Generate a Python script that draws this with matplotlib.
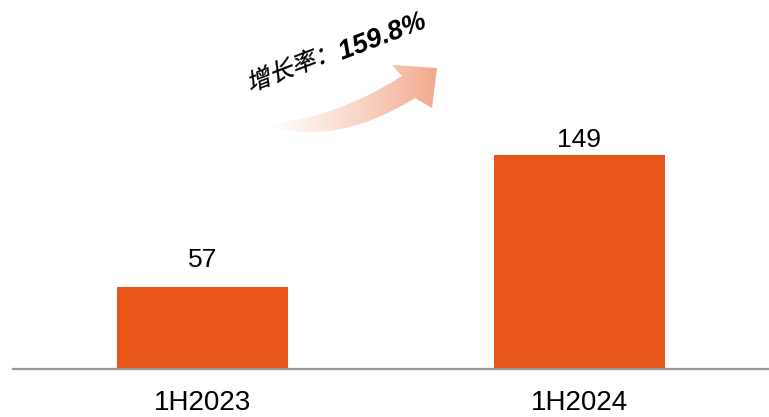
import matplotlib.pyplot as plt
import numpy as np
from matplotlib.patches import PathPatch
from matplotlib.path import Path
from matplotlib.textpath import TextPath
from matplotlib.font_manager import FontProperties
from matplotlib.transforms import Affine2D

periods = ['1H2023', '1H2024']
revenue = [57, 149]
growth_label = '159.8%'

bar_color = '#E85719'
label_pad = [14.5, 6]  # points between bar top and value text

W, H = 769, 417
fig = plt.figure(figsize=(W / 100, H / 100), dpi=100)

# main bar axes, baseline sits ~48 px above the bottom edge
ax = fig.add_axes([13 / W, 48 / H, 1 - 13 / W, 1 - 48 / H])
x = np.arange(len(periods))
ax.bar(x, revenue, width=0.453, color=bar_color, zorder=2)
for xi, v, pad in zip(x, revenue, label_pad):
    ax.annotate(str(v), (xi, v), xytext=(0, pad), textcoords='offset points',
                ha='center', va='baseline', fontsize=19, family='Liberation Sans')
ax.set_xlim(-0.503, 1.503)
ax.set_ylim(0, 256.8)
ax.set_xticks(x, periods, fontsize=20, family='Liberation Sans')
ax.tick_params(axis='x', length=0, pad=15)
ax.set_yticks([])
for side in ['top', 'right', 'left']:
    ax.spines[side].set_visible(False)
ax.spines['bottom'].set_color('#999999')
ax.spines['bottom'].set_linewidth(1.6)
ax.spines['bottom'].set_zorder(3)

# overlay in pixel coordinates (y down) for the growth arrow and caption
ov = fig.add_axes([0, 0, 1, 1])
ov.set_xlim(0, W)
ov.set_ylim(H, 0)
ov.axis('off')

# curved arrow: smooth lower/upper edges, straight head
verts = [(262, 123), (331, 150), (415, 98),
         (432, 108), (437, 68), (392, 65), (402, 76),
         (337, 117), (275, 123), (262, 123)]
codes = [Path.MOVETO, Path.CURVE3, Path.CURVE3,
         Path.LINETO, Path.LINETO, Path.LINETO, Path.LINETO,
         Path.CURVE3, Path.CURVE3, Path.LINETO]
arrow = PathPatch(Path(verts, codes), facecolor='none', edgecolor='none')
ov.add_patch(arrow)

# horizontal fade: transparent at the tail, salmon at the head
n = 256
t = np.linspace(0, 1, n)
grad = np.zeros((1, n, 4))
grad[..., 0] = 238 / 255
grad[..., 1] = 150 / 255
grad[..., 2] = 115 / 255
grad[..., 3] = 0.82 * t ** 1.2
img = ov.imshow(grad, extent=(262, 438, 140, 62), aspect='auto', interpolation='bilinear')
img.set_clip_path(arrow)

angle = 21
cjk = FontProperties(family='Noto Sans CJK SC', weight='normal')
num = FontProperties(family='Liberation Sans', weight='bold', style='italic')

tp = TextPath((0, 0), '增长率：', size=24, prop=cjk)
tr = Affine2D().skew_deg(14, 0).rotate_deg(angle).scale(1, -1).translate(250, 92)
ov.add_patch(PathPatch(tr.transform_path(tp), facecolor='black', edgecolor='black', lw=0.2))

tp2 = TextPath((0, 0), growth_label, size=27, prop=num)
tr2 = Affine2D().rotate_deg(angle).scale(1, -1).translate(342, 60)
ov.add_patch(PathPatch(tr2.transform_path(tp2), facecolor='black', edgecolor='none'))

fig.savefig('out.png', dpi=100)
